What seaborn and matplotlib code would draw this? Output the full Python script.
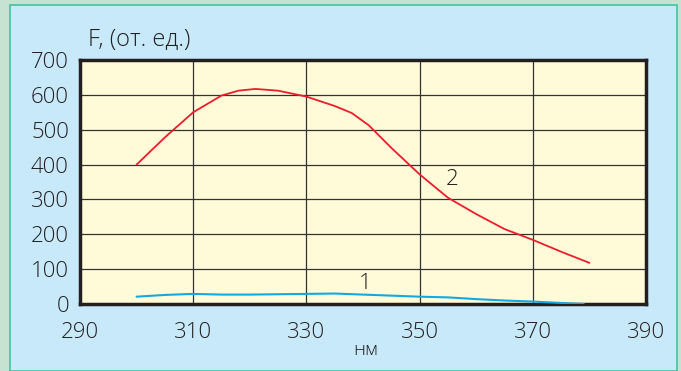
import matplotlib

matplotlib.use("Agg")
import matplotlib.pyplot as plt
import pandas as pd
import seaborn as sns
from matplotlib.patches import Rectangle

# curve 2 (red)
wl_2 = [300, 305, 310, 315, 318, 321, 325, 330, 335, 338, 341, 345, 350, 355, 360, 365, 370, 375, 380]
f_2 = [400, 478, 550, 598, 612, 617, 612, 595, 568, 548, 513, 448, 372, 305, 258, 215, 184, 150, 118]

# curve 1 (blue)
wl_1 = [300, 305, 310, 315, 320, 325, 330, 335, 340, 345, 350, 355, 360, 365, 370, 375, 379]
f_1 = [21, 26, 29, 27, 27, 28, 29, 30, 27, 24, 21, 19, 14, 10, 7, 3, 0]

x_ticks = [290, 310, 330, 350, 370, 390]
y_ticks = [0, 100, 200, 300, 400, 500, 600, 700]

sns.set_style("white")
plt.rcParams["font.family"] = ["Open Sans", "DejaVu Sans"]
plt.rcParams["font.weight"] = "light"

fig = plt.figure(figsize=(6.81, 3.71), dpi=100, facecolor="#c6e2d2")
fig.patches.append(Rectangle((10 / 681, 0), 667 / 681, 1 - 5 / 371,
                             transform=fig.transFigure, facecolor="#c7e9f9",
                             edgecolor="#3cc89c", linewidth=1.2, zorder=-10))

ax = fig.add_axes([80 / 681, 1 - 304 / 371, 566 / 681, 244 / 371])
ax.set_facecolor("#fffbd9")

df2 = pd.DataFrame({"wl": wl_2, "F": f_2})
df1 = pd.DataFrame({"wl": wl_1, "F": f_1})
sns.lineplot(data=df2, x="wl", y="F", color="#ec1c2c", linewidth=1.3, ax=ax, zorder=3)
sns.lineplot(data=df1, x="wl", y="F", color="#14a8e2", linewidth=1.5, ax=ax, zorder=3)

ax.set_xlim(290, 390)
ax.set_ylim(0, 700)
ax.set_xticks(x_ticks)
ax.set_yticks(y_ticks)
ax.grid(True, color="#333333", linewidth=0.9)
ax.set_axisbelow(True)
for s in ax.spines.values():
    s.set_color("#231f20")
    s.set_linewidth(2.5)
ax.tick_params(axis="both", length=5, width=0.9, color="#333333",
               labelsize=16, labelcolor="#231f20", pad=3)
ax.tick_params(axis="x", pad=8)
ax.set_xlabel("")
ax.set_ylabel("")

fig.text(88 / 681, 1 - 40 / 371, "F, (от. ед.)", fontsize=17, color="#231f20",
         ha="left", va="center")
fig.text(366 / 681, 1 - 350 / 371, "нм", fontsize=14, color="#231f20",
         ha="center", va="center")
ax.text(340.3, 60, "1", fontsize=16, color="#231f20", ha="center", va="center")
ax.text(355.7, 356, "2", fontsize=16, color="#231f20", ha="center", va="center")

fig.savefig("out.png", dpi=100, facecolor=fig.get_facecolor())
